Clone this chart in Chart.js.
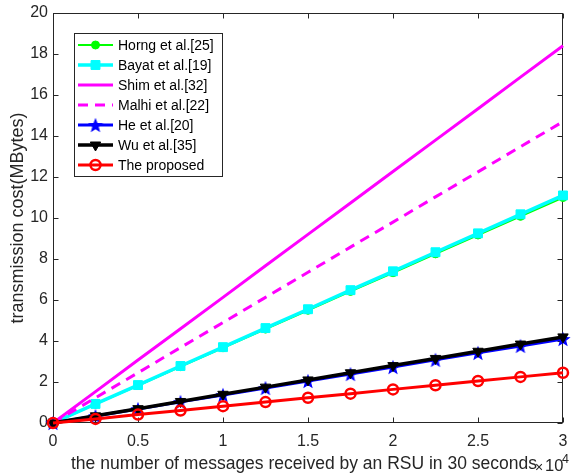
<!DOCTYPE html>
<html lang="en">
<head>
  <meta charset="utf-8">
  <title>Transmission cost</title>
  <style>
    body { margin: 0; background: #fff; }
    canvas { display: block; }
  </style>
</head>
<body>
  <canvas id="myChart" width="574" height="474"></canvas>

  <script src="https://cdn.jsdelivr.net/npm/chart.js/dist/chart.umd.min.js"></script>
  <script>
    // data (x in units of 10^4 messages)
    const xValues = [0, 0.25, 0.5, 0.75, 1, 1.25, 1.5, 1.75, 2, 2.25, 2.5, 2.75, 3];
    const horng = [0, 0.92, 1.83, 2.75, 3.67, 4.58, 5.5, 6.42, 7.33, 8.25, 9.17, 10.08, 11.0];
    const bayat = [0, 0.93, 1.85, 2.78, 3.7, 4.63, 5.55, 6.48, 7.4, 8.33, 9.25, 10.18, 11.1];
    const shim = [0, 1.53, 3.07, 4.6, 6.13, 7.67, 9.2, 10.73, 12.27, 13.8, 15.33, 16.87, 18.4];
    const malhi = [0, 1.23, 2.45, 3.68, 4.9, 6.13, 7.35, 8.58, 9.8, 11.03, 12.25, 13.48, 14.7];
    const he = [0, 0.34, 0.68, 1.03, 1.37, 1.71, 2.05, 2.39, 2.73, 3.08, 3.42, 3.76, 4.1];
    const wu = [0, 0.35, 0.7, 1.05, 1.4, 1.75, 2.1, 2.45, 2.8, 3.15, 3.5, 3.85, 4.2];
    const proposed = [0, 0.2, 0.41, 0.61, 0.82, 1.02, 1.23, 1.43, 1.64, 1.84, 2.05, 2.25, 2.45];
    const xTicks = [0, 0.5, 1, 1.5, 2, 2.5, 3];
    const yTicks = [0, 2, 4, 6, 8, 10, 12, 14, 16, 18, 20];

    const axisColor = '#262626';
    const fontFamily = '"Liberation Sans", Arial, sans-serif';

    // filled five point star for He et al.
    function makeStar(size, color) {
      const c = document.createElement('canvas');
      c.width = size;
      c.height = size;
      const g = c.getContext('2d');
      const r = size / 2;
      g.beginPath();
      for (let i = 0; i < 10; i++) {
        const a = -Math.PI / 2 + i * Math.PI / 5;
        const rr = i % 2 ? r * 0.42 : r;
        g.lineTo(r + rr * Math.cos(a), r + rr * Math.sin(a) + 0.8);
      }
      g.closePath();
      g.fillStyle = color;
      g.fill();
      return c;
    }
    const star = makeStar(16, '#0000ff');

    function pts(ys) {
      return xValues.map((x, i) => ({ x: x, y: ys[i] }));
    }

    const datasets = [
      { label: 'Horng et al.[25]', data: pts(horng), borderColor: '#00ff00', backgroundColor: '#00ff00',
        borderWidth: 2, pointStyle: 'circle', pointRadius: 4, pointBorderWidth: 1, order: 7 },
      { label: 'Bayat et al.[19]', data: pts(bayat), borderColor: '#00ffff', backgroundColor: '#00ffff',
        borderWidth: 3.5, pointStyle: 'rect', pointRadius: 6.3, pointBorderWidth: 1, order: 6 },
      { label: 'Shim et al.[32]', data: pts(shim), borderColor: '#ff00ff', backgroundColor: '#ff00ff',
        borderWidth: 3, pointRadius: 0, order: 5 },
      { label: 'Malhi et al.[22]', data: pts(malhi), borderColor: '#ff00ff', backgroundColor: '#ff00ff',
        borderWidth: 3, borderDash: [10, 7], pointRadius: 0, order: 4 },
      { label: 'He et al.[20]', data: pts(he), borderColor: '#0000ff', backgroundColor: '#0000ff',
        borderWidth: 3, pointStyle: star, pointRadius: 8, order: 3 },
      { label: 'Wu et al.[35]', data: pts(wu), borderColor: '#000000', backgroundColor: '#000000',
        borderWidth: 3.5, pointStyle: 'triangle', pointRotation: 180, pointRadius: 6, pointBorderWidth: 1, order: 2 },
      { label: 'The proposed', data: pts(proposed), borderColor: '#ff0000', backgroundColor: 'rgba(0,0,0,0)',
        borderWidth: 3, pointStyle: 'circle', pointRadius: 5, pointBorderWidth: 2.5, order: 1 }
    ];
    datasets.forEach((d) => { d.clip = false; d.tension = 0; });

    // box with inward ticks on all four sides
    const frame = {
      id: 'frame',
      beforeDatasetsDraw(chart) {
        const { ctx, chartArea: a, scales: { x, y } } = chart;
        const L = Math.round(a.left) + 0.5, R = Math.round(a.right) - 0.5;
        const T = Math.round(a.top) + 0.5, B = Math.round(a.bottom) - 0.5;
        ctx.save();
        ctx.strokeStyle = axisColor;
        ctx.lineWidth = 1;
        ctx.strokeRect(L, T, R - L, B - T);
        ctx.beginPath();
        xTicks.forEach((v) => {
          const px = Math.round(x.getPixelForValue(v)) + 0.5;
          ctx.moveTo(px, B); ctx.lineTo(px, B - 5);
          ctx.moveTo(px, T); ctx.lineTo(px, T + 5);
        });
        yTicks.forEach((v) => {
          const py = Math.round(y.getPixelForValue(v)) + 0.5;
          ctx.moveTo(L, py); ctx.lineTo(L + 5, py);
          ctx.moveTo(R, py); ctx.lineTo(R - 5, py);
        });
        ctx.stroke();
        ctx.restore();
      }
    };

    // legend inside the axes, x label and the x exponent
    const legendBox = {
      id: 'legendBox',
      afterDraw(chart) {
        const ctx = chart.ctx;
        ctx.save();
        ctx.fillStyle = '#ffffff';
        ctx.fillRect(74, 33, 148, 143);
        ctx.strokeStyle = axisColor;
        ctx.lineWidth = 1;
        ctx.strokeRect(74.5, 33.5, 148, 143);
        ctx.font = '14px ' + fontFamily;
        ctx.textBaseline = 'middle';
        chart.data.datasets.forEach((d, i) => {
          const cy = 45 + i * 20;
          ctx.strokeStyle = d.borderColor;
          ctx.lineWidth = d.borderWidth;
          ctx.setLineDash(d.borderDash || []);
          ctx.beginPath();
          ctx.moveTo(78, cy);
          ctx.lineTo(113, cy);
          ctx.stroke();
          ctx.setLineDash([]);
          if (d.pointRadius > 0) {
            ctx.fillStyle = d.backgroundColor;
            ctx.lineWidth = d.pointBorderWidth || 1;
            Chart.helpers.drawPoint(ctx, {
              pointStyle: d.pointStyle,
              radius: d.pointRadius,
              rotation: d.pointRotation || 0,
              borderWidth: d.pointBorderWidth || 1
            }, 95.5, cy);
          }
          ctx.fillStyle = '#000000';
          ctx.fillText(d.label, 118, cy + 1);
        });

        ctx.fillStyle = axisColor;
        ctx.textBaseline = 'alphabetic';
        ctx.font = '17.5px ' + fontFamily;
        ctx.fillText('the number of messages received by an RSU in 30 seconds', 71, 469);
        ctx.font = '14px ' + fontFamily;
        ctx.fillText('\u00d7', 535, 472);
        ctx.font = '16.5px ' + fontFamily;
        ctx.fillText('10', 545, 471);
        ctx.font = '12.5px ' + fontFamily;
        ctx.fillText('4', 562, 463);
        ctx.restore();
      }
    };

    const config = {
      type: 'line',
      data: { datasets: datasets },
      options: {
        responsive: false,
        animation: false,
        layout: { padding: { top: 13, right: 2, left: 0, bottom: 0 } },
        plugins: { legend: { display: false }, tooltip: { enabled: false } },
        scales: {
          x: {
            type: 'linear',
            min: 0,
            max: 3,
            afterBuildTicks: (s) => { s.ticks = xTicks.map((v) => ({ value: v })); },
            afterFit: (s) => { s.height = 51; s.paddingLeft = 0; s.paddingRight = 0; },
            grid: { display: false, drawTicks: false },
            border: { display: false },
            ticks: { color: axisColor, padding: 9, maxRotation: 0, autoSkip: false,
              callback: (v) => String(v),
              font: { family: fontFamily, size: 16 } }
          },
          y: {
            min: 0,
            max: 20,
            afterBuildTicks: (s) => { s.ticks = yTicks.map((v) => ({ value: v })); },
            afterFit: (s) => { s.width = 53; s.paddingTop = 0; s.paddingBottom = 0; },
            grid: { display: false, drawTicks: false },
            border: { display: false },
            ticks: { color: axisColor, padding: 5,
              callback: (v) => String(v),
              font: { family: fontFamily, size: 16 } },
            title: { display: true, text: 'transmission cost(MBytes)',
              color: axisColor, padding: { top: 7, bottom: 0 },
              font: { family: fontFamily, size: 18 } }
          }
        }
      },
      plugins: [frame, legendBox]
    };

    const ctx = document.getElementById('myChart').getContext('2d');
    const myChart = new Chart(ctx, config);
  </script>
</body>
</html>
